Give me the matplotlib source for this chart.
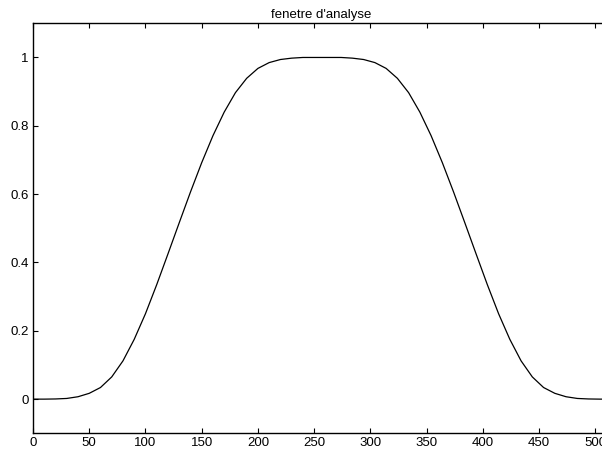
import matplotlib
matplotlib.use("Agg")
import matplotlib.pyplot as plt

# Data
x_vals = [0, 10, 20, 30, 40, 50, 60, 70, 80, 90, 100, 110, 120, 130, 140, 150, 160,
          170, 180, 190, 200, 210, 220, 230, 240, 250, 257, 264, 274, 284, 294, 304,
          314, 324, 334, 344, 354, 364, 374, 384, 394, 404, 414, 424, 434, 444, 454,
          464, 474, 484, 494, 504, 511]
y_vals = [0.0, 0.0, 0.0005, 0.002, 0.007, 0.017, 0.034, 0.065, 0.112, 0.175, 0.25,
          0.335, 0.425, 0.516, 0.606, 0.692, 0.771, 0.84, 0.897, 0.939, 0.968, 0.985,
          0.994, 0.998, 1.0, 1.0, 1.0, 1.0, 1.0, 0.998, 0.994, 0.985, 0.968, 0.939,
          0.897, 0.84, 0.771, 0.692, 0.606, 0.516, 0.425, 0.335, 0.25, 0.175, 0.112,
          0.065, 0.034, 0.017, 0.007, 0.002, 0.0005, 0.0, 0.0]

x_ticks = [0, 50, 100, 150, 200, 250, 300, 350, 400, 450, 500]
y_ticks = [0, 0.2, 0.4, 0.6, 0.8, 1]
y_tick_labels = ["0", "0.2", "0.4", "0.6", "0.8", "1"]
title = "fenetre d'analyse"

plt.rcParams['font.family'] = ['Liberation Sans', 'DejaVu Sans']

fig = plt.figure(figsize=(6.02, 4.53), dpi=100)
W, H = 602, 453
left_px, right_px, top_px, bottom_px = 33, 608.8, 23.3, 433.3
ax = fig.add_axes([left_px / W, (H - bottom_px) / H,
                   (right_px - left_px) / W, (bottom_px - top_px) / H])

ax.plot(x_vals, y_vals, color='black', linewidth=0.9)
ax.set_xlim(0, 512)
ax.set_ylim(-0.1, 1.1)
ax.set_xticks(x_ticks)
ax.set_xticklabels([str(v) for v in x_ticks])
ax.set_yticks(y_ticks)
ax.set_yticklabels(y_tick_labels)
ax.tick_params(direction='in', length=3.6, width=0.8, labelsize=9.5,
               top=True, right=True, pad=3)
for s in ax.spines.values():
    s.set_linewidth(1.0)
ax.set_title(title, fontsize=9.5, pad=4)

fig.savefig("out.png", dpi=100)
